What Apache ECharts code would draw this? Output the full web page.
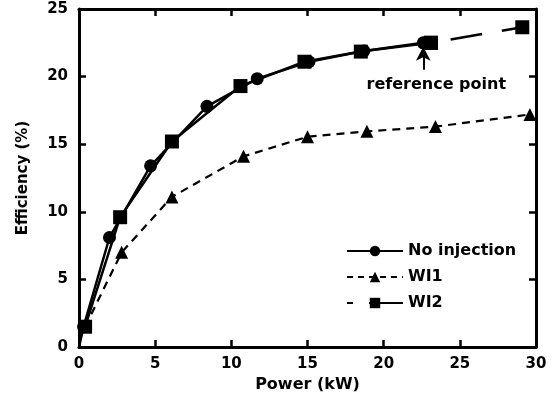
<!DOCTYPE html>
<html>
<head>
<meta charset="utf-8">
<script src="https://cdn.jsdelivr.net/npm/echarts@6/dist/echarts.min.js"></script>
<style>
  html, body { margin: 0; padding: 0; background: #ffffff; }
  #chart { width: 559px; height: 399px; }
</style>
</head>
<body>
<div id="chart"></div>
<script>
"use strict";

// values
var powerNoInj = [0, 0.3, 2.0, 4.7, 8.4, 11.7, 15.1, 18.7, 22.6];
var effNoInj   = [0, 1.5, 8.1, 13.4, 17.8, 19.85, 21.1, 21.9, 22.5];

var powerWI1 = [0.4, 2.8, 6.1, 10.8, 15.0, 18.9, 23.4, 29.6];
var effWI1   = [1.5, 7.0, 11.1, 14.1, 15.55, 15.95, 16.3, 17.2];

var powerWI2 = [0.4, 2.7, 6.1, 10.6, 14.8, 18.5, 23.1, 29.1];
var effWI2   = [1.5, 9.6, 15.2, 19.3, 21.1, 21.85, 22.5, 23.65];
// WI2 is drawn solid up to the reference point, dashed after it
var wi2RefIndex = 6;

var refPower = 22.6;
var refArrow = [20.5, 22.2];

var font = 'DejaVu Sans';

function pairs(xs, ys) {
  return xs.map(function (x, i) { return [x, ys[i]]; });
}

var noInjData = pairs(powerNoInj, effNoInj);
noInjData[0] = { value: noInjData[0], symbol: 'none' };
var wi1Data = pairs(powerWI1, effWI1);
wi1Data[0] = { value: wi1Data[0], symbol: 'none' };
var wi2All = pairs(powerWI2, effWI2);
var wi2Head = wi2All.slice(0, wi2RefIndex + 1);
var wi2Tail = wi2All.slice(wi2RefIndex);

var chart = echarts.init(document.getElementById('chart'));

var tickStyle = { show: true, inside: true, length: 7, lineStyle: { color: '#000', width: 2.5 } };
var lineAxis = { show: true, onZero: false, lineStyle: { color: '#000', width: 3 } };
var labelStyle = { color: '#000', fontFamily: font, fontWeight: 'bold', fontSize: 15 };

var option = {
  backgroundColor: '#ffffff',
  animation: false,
  grid: { left: 79, right: 23, top: 9, bottom: 52 },
  legend: {
    orient: 'vertical',
    left: 341,
    top: 238,
    itemWidth: 56,
    itemHeight: 13,
    itemGap: 10,
    textStyle: { color: '#000', fontFamily: font, fontWeight: 'bold', fontSize: 16 },
    data: [
      'No injection',
      { name: 'WI1', lineStyle: { type: [6, 5] } },
      { name: 'WI2', lineStyle: { type: [6, 16, 40, 1] } }
    ]
  },
  xAxis: [{
    type: 'value', min: 0, max: 30, interval: 5,
    name: 'Power (kW)', nameLocation: 'middle', nameGap: 28,
    nameTextStyle: { color: '#000', fontFamily: font, fontWeight: 'bold', fontSize: 16 },
    axisLine: lineAxis, axisTick: tickStyle,
    axisLabel: Object.assign({ margin: 10 }, labelStyle),
    splitLine: { show: false }
  }, {
    type: 'value', position: 'top', min: 0, max: 30, interval: 5,
    axisLine: lineAxis, axisTick: tickStyle,
    axisLabel: { show: false }, splitLine: { show: false }
  }],
  yAxis: [{
    type: 'value', min: 0, max: 25, interval: 5,
    name: 'Efficiency (%)', nameLocation: 'middle', nameGap: 48,
    nameTextStyle: { color: '#000', fontFamily: font, fontWeight: 'bold', fontSize: 15 },
    axisLine: lineAxis, axisTick: tickStyle,
    axisLabel: Object.assign({ margin: 11 }, labelStyle),
    splitLine: { show: false }
  }, {
    type: 'value', position: 'right', min: 0, max: 25, interval: 5,
    axisLine: lineAxis, axisTick: tickStyle,
    axisLabel: { show: false }, splitLine: { show: false }
  }],
  series: [{
    name: 'WI2',
    type: 'line',
    data: wi2Head,
    symbol: 'rect', symbolSize: 14,
    itemStyle: { color: '#000' },
    lineStyle: { color: '#000', width: 2.5 }
  }, {
    name: 'WI2 tail',
    type: 'line',
    data: wi2Tail,
    symbol: 'rect', symbolSize: 14,
    itemStyle: { color: '#000' },
    lineStyle: { color: '#000', width: 2.5, type: [32, 20], dashOffset: 32 }
  }, {
    name: 'WI1',
    type: 'line',
    data: wi1Data,
    symbol: 'triangle', symbolSize: 13,
    itemStyle: { color: '#000' },
    lineStyle: { color: '#000', width: 2.2, type: [8, 6] }
  }, {
    name: 'No injection',
    type: 'line',
    data: noInjData,
    symbol: 'circle', symbolSize: 13,
    itemStyle: { color: '#000' },
    lineStyle: { color: '#000', width: 2.5 },
    markLine: {
      silent: true,
      symbol: ['none', 'arrow'],
      symbolSize: [11, 14],
      lineStyle: { color: '#000', width: 2, type: 'solid' },
      label: {
        show: true, position: 'start', distance: 7, offset: [13, 0],
        formatter: 'reference point',
        color: '#000', fontFamily: font, fontWeight: 'bold', fontSize: 16
      },
      data: [[{ coord: [refPower, refArrow[0]] }, { coord: [refPower, refArrow[1]] }]]
    }
  }]
};

chart.setOption(option);
</script>
</body>
</html>
